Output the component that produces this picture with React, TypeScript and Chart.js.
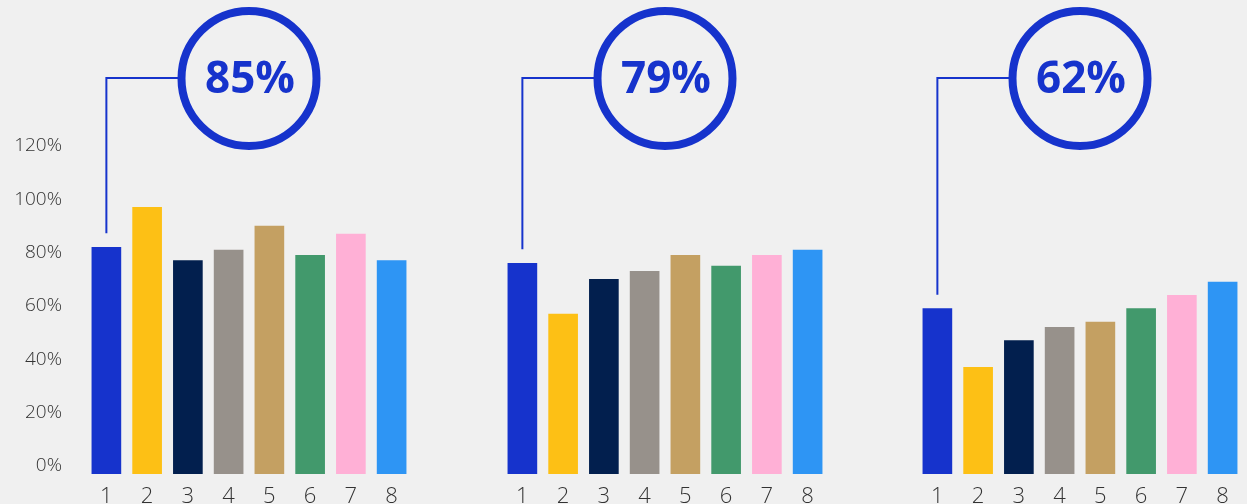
import React, { useEffect, useRef } from "react";
import { Chart, registerables } from "chart.js";

Chart.register(...registerables);

// ---- data ----
const categories = ["1", "2", "3", "4", "5", "6", "7", "8"];
const group1Values = [85, 100, 80, 84, 93, 82, 90, 80];
const group2Values = [79, 60, 73, 76, 82, 78, 82, 84];
const group3Values = [62, 40, 50, 55, 57, 62, 67, 72];
const calloutValues = [85, 79, 62];
const yMin = 0;
const yMax = 120;
const yStep = 20;
const barColors = [
  "#1633CC",
  "#FDC015",
  "#021F4E",
  "#97918B",
  "#C4A062",
  "#42996C",
  "#FFB0D6",
  "#2E95F4",
];
const accent = "#1633CC";
const bg = "#F0F0F0";

type PanelProps = {
  values: number[];
  callout: number;
  showY: boolean;
  left: number;
  width: number;
};

function Panel({ values, callout, showY, left, width }: PanelProps) {
  const ref = useRef<HTMLCanvasElement | null>(null);

  useEffect(() => {
    if (!ref.current) return;
    const calloutPlugin = {
      id: "callout",
      afterDraw(chart: any) {
        const ctx = chart.ctx;
        const meta = chart.getDatasetMeta(0);
        const bar = meta.data[0];
        if (!bar) return;
        const area = chart.chartArea;
        const cx = (area.left + area.right) / 2;
        const cy = 78.5;
        const r = 67.5;
        const lineY = 78;
        ctx.save();
        // connector
        ctx.strokeStyle = accent;
        ctx.lineWidth = 2;
        ctx.beginPath();
        ctx.moveTo(bar.x, bar.y - 14);
        ctx.lineTo(bar.x, lineY);
        ctx.lineTo(cx - r, lineY);
        ctx.stroke();
        // circle
        ctx.lineWidth = 8;
        ctx.beginPath();
        ctx.arc(cx, cy, r, 0, Math.PI * 2);
        ctx.stroke();
        // text
        ctx.fillStyle = accent;
        ctx.font = "bold 44px 'Open Sans'";
        ctx.textAlign = "center";
        ctx.textBaseline = "middle";
        ctx.fillText(callout + "%", cx + 1, cy + 2);
        ctx.restore();
      },
    };

    const chart = new Chart(ref.current, {
      type: "bar",
      data: {
        labels: categories,
        datasets: [
          {
            data: values,
            backgroundColor: barColors,
            borderWidth: 0,
            barThickness: 29,
          },
        ],
      },
      options: {
        animation: false,
        responsive: false,
        events: [],
        layout: { padding: { top: 154, left: 0, right: 0, bottom: 0 } },
        plugins: {
          legend: { display: false },
          tooltip: { enabled: false },
        },
        scales: {
          x: {
            grid: { display: false, drawTicks: false },
            border: { display: false },
            ticks: {
              color: "#333333",
              font: { family: "'Open Sans'", size: 22, weight: 300 },
              padding: 10,
            },
            afterFit(scale: any) {
              scale.height = 30;
            },
          },
          y: {
            display: showY,
            min: yMin,
            max: yMax,
            grid: { display: false, drawTicks: true, tickLength: 24 },
            border: { display: false },
            ticks: {
              stepSize: yStep,
              color: "#333333",
              font: { family: "'Open Sans'", size: 19, weight: 300 },
              padding: 0,
              labelOffset: -8,
              callback: (v: any) => v + "%",
            },
            afterFit(scale: any) {
              if (showY) scale.width = 86;
            },
          },
        },
      },
      plugins: [calloutPlugin],
    });
    return () => chart.destroy();
  }, [values, callout, showY]);

  return (
    <canvas
      ref={ref}
      width={width}
      height={504}
      style={{ position: "absolute", left, top: 0, display: "block" }}
    />
  );
}

export default function App() {
  return (
    <div
      style={{
        position: "fixed",
        left: 0,
        top: 0,
        width: 1247,
        height: 504,
        background: bg,
        overflow: "hidden",
      }}
    >
      <Panel values={group1Values} callout={calloutValues[0]} showY={true} left={0} width={412} />
      <Panel values={group2Values} callout={calloutValues[1]} showY={false} left={502} width={326} />
      <Panel values={group3Values} callout={calloutValues[2]} showY={false} left={917} width={326} />
    </div>
  );
}
